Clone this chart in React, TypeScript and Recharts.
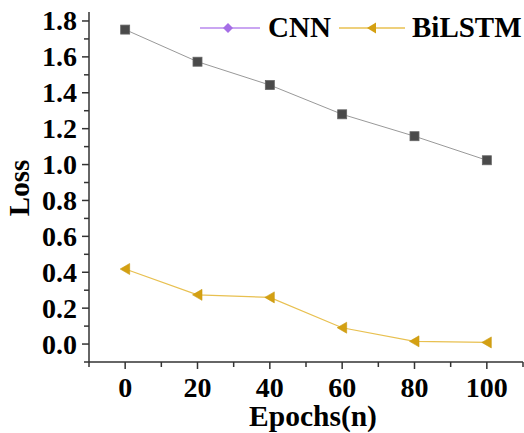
import React from 'react';
import { LineChart, Line, XAxis, YAxis } from 'recharts';

const epochs = [0, 20, 40, 60, 80, 100];
const cnnLoss = [1.752, 1.573, 1.443, 1.28, 1.158, 1.024];
const bilstmLoss = [0.418, 0.274, 0.26, 0.091, 0.015, 0.009];
const xMajorTicks = [0, 20, 40, 60, 80, 100];
const xAllTicks = [-10, 0, 10, 20, 30, 40, 50, 60, 70, 80, 90, 100, 110];
const yMajorTicks = [0, 0.2, 0.4, 0.6, 0.8, 1.0, 1.2, 1.4, 1.6, 1.8];
const yAllTicks = [-0.1, 0, 0.1, 0.2, 0.3, 0.4, 0.5, 0.6, 0.7, 0.8, 0.9, 1.0, 1.1, 1.2, 1.3, 1.4, 1.5, 1.6, 1.7, 1.8];

const data = epochs.map((e, i) => ({ epoch: e, cnn: cnnLoss[i], bilstm: bilstmLoss[i] }));

const FONT = '"Liberation Serif", "Times New Roman", serif';
const AXIS_COLOR = '#333';

const isMajorX = (v: number) => xMajorTicks.some((t) => Math.abs(t - v) < 1e-6);
const isMajorY = (v: number) => yMajorTicks.some((t) => Math.abs(t - v) < 1e-6);

const XTick = (props: any) => {
  const { x, y, payload } = props;
  const major = isMajorX(payload.value);
  return (
    <g>
      <line x1={x} x2={x} y1={y} y2={y + (major ? 7 : 5)} stroke={AXIS_COLOR} strokeWidth={1.5} />
      {major && (
        <text x={x} y={y + 35} textAnchor="middle" fontFamily={FONT} fontWeight="bold" fontSize={28} fill="#000">
          {payload.value}
        </text>
      )}
    </g>
  );
};

const YTick = (props: any) => {
  const { x, y, payload } = props;
  const major = isMajorY(payload.value);
  return (
    <g>
      <line x1={x} x2={x - (major ? 7 : 5)} y1={y} y2={y} stroke={AXIS_COLOR} strokeWidth={1.5} />
      {major && (
        <text x={x - 12} y={y + 9.5} textAnchor="end" fontFamily={FONT} fontWeight="bold" fontSize={28} fill="#000">
          {payload.value.toFixed(1)}
        </text>
      )}
    </g>
  );
};

const SquareDot = (props: any) => {
  const { cx, cy } = props;
  if (cx == null || cy == null) return null;
  return <rect x={cx - 4.5} y={cy - 4.5} width={9} height={9} fill="#4a4a4a" stroke="#666" strokeWidth={0.8} />;
};

const TriDot = (props: any) => {
  const { cx, cy } = props;
  if (cx == null || cy == null) return null;
  return <polygon points={`${cx - 5},${cy} ${cx + 4.5},${cy - 5.5} ${cx + 4.5},${cy + 5.5}`} fill="#d4a012" stroke="#c99a10" strokeWidth={0.6} />;
};

const XLabel = (props: any) => {
  const { viewBox } = props;
  return (
    <text x={313} y={viewBox.y + 64} textAnchor="middle" fontFamily={FONT} fontWeight="bold" fontSize={29.5} fill="#000">
      Epochs(n)
    </text>
  );
};

const YLabel = () => (
  <text x={0} y={0} transform="translate(29,188) rotate(-90)" textAnchor="middle" fontFamily={FONT} fontWeight="bold" fontSize={29} fill="#000">
    Loss
  </text>
);

export default function App() {
  return (
    <div style={{ position: 'absolute', left: 0, top: 0, width: 524, height: 433, background: '#fff' }}>
      <LineChart width={524} height={433} data={data} margin={{ top: 12, right: 1, bottom: 0, left: 0 }}>
        <XAxis
          dataKey="epoch"
          type="number"
          domain={[-10, 110]}
          ticks={xAllTicks}
          interval={0}
          tickLine={false}
          tickSize={0}
          tickMargin={0}
          tick={<XTick />}
          height={71}
          axisLine={{ stroke: AXIS_COLOR, strokeWidth: 1.5 }}
          label={<XLabel />}
          allowDataOverflow
        />
        <YAxis
          type="number"
          domain={[-0.1, 1.85]}
          ticks={yAllTicks}
          interval={0}
          tickLine={false}
          tickSize={0}
          tickMargin={0}
          tick={<YTick />}
          width={89}
          axisLine={{ stroke: AXIS_COLOR, strokeWidth: 1.5 }}
          label={<YLabel />}
          allowDataOverflow
        />
        <Line dataKey="cnn" stroke="#999" strokeWidth={1} dot={<SquareDot />} activeDot={false} isAnimationActive={false} />
        <Line dataKey="bilstm" stroke="#e8c050" strokeWidth={1.2} dot={<TriDot />} activeDot={false} isAnimationActive={false} />
      </LineChart>
      <svg width={330} height={50} style={{ position: 'absolute', left: 194, top: 0 }}>
        <line x1={6} x2={66} y1={28} y2={28} stroke="#b888ee" strokeWidth={1.3} />
        <polygon points="34,23 39,28 34,33 29,28" fill="#a56ee6" />
        <text x={74} y={37} fontFamily={FONT} fontWeight="bold" fontSize={29} fill="#000">CNN</text>
        <line x1={145} x2={211} y1={28} y2={28} stroke="#e8c050" strokeWidth={1.3} />
        <polygon points="173,28 182,22.5 182,33.5" fill="#d4a012" />
        <text x={218} y={37} fontFamily={FONT} fontWeight="bold" fontSize={29} fill="#000">BiLSTM</text>
      </svg>
    </div>
  );
}
